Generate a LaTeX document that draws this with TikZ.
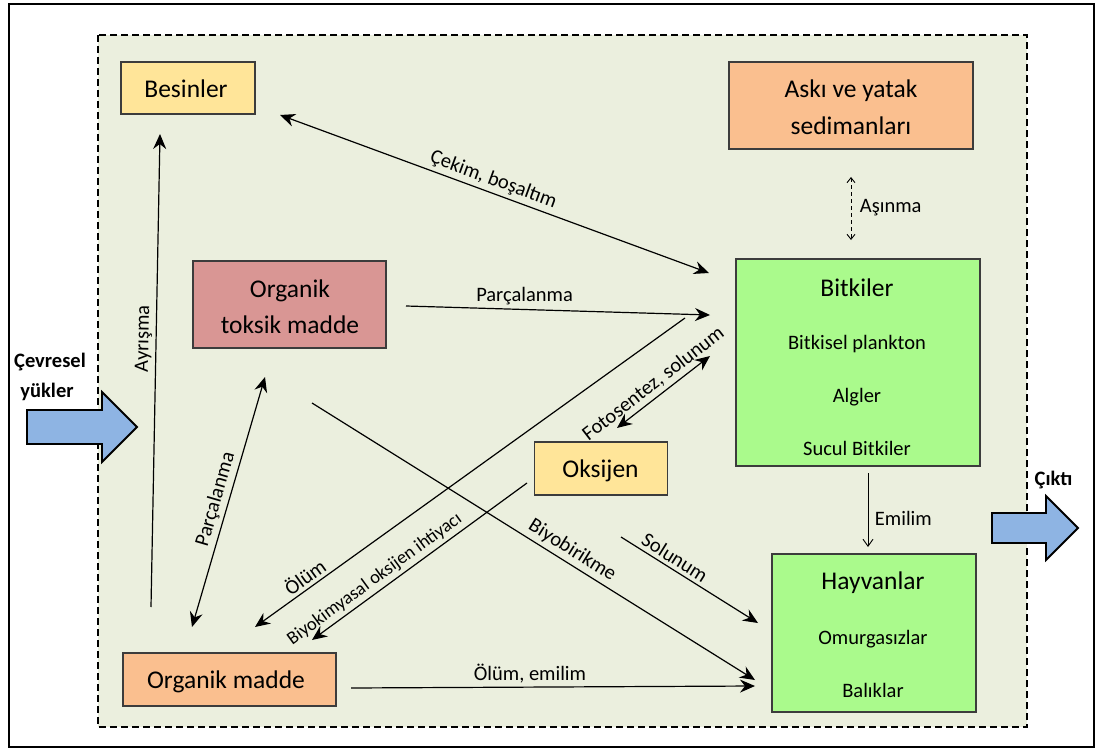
\documentclass[tikz,border=0pt]{standalone}
\usepackage{fontspec}
\setmainfont{Carlito}
\usetikzlibrary{arrows.meta}

\definecolor{panel}{RGB}{235,239,222}
\definecolor{cream}{RGB}{255,229,153}
\definecolor{peach}{RGB}{250,191,143}
\definecolor{rose}{RGB}{217,150,148}
\definecolor{leaf}{RGB}{170,250,140}
\definecolor{flow}{RGB}{142,180,227}
\definecolor{edge}{RGB}{60,60,60}

\begin{document}
\begin{tikzpicture}[x=1pt,y=-1pt,
  >={Stealth[length=15pt,width=13pt,inset=5pt]},
  box/.style={draw=edge, line width=1.4pt, inner sep=0pt},
  big/.style={font=\fontsize{25.5}{30}\selectfont, anchor=base, inner sep=0pt},
  small/.style={font=\fontsize{20.5}{24}\selectfont, anchor=base, inner sep=0pt},
  bold/.style={font=\fontsize{20.5}{24}\selectfont\bfseries, anchor=base, inner sep=0pt},
  lbl/.style={font=\fontsize{20.5}{24}\selectfont, inner sep=3.5pt},
  lblsmall/.style={font=\fontsize{18.5}{22}\selectfont, inner sep=3.5pt},
  conn/.style={line width=1.2pt},
  thinconn/.style={line width=0.9pt, -{Straight Barb[length=7pt,width=10pt]}},
  wear/.style={line width=0.9pt, dash pattern=on 4pt off 3pt,
    {Straight Barb[length=5pt,width=8pt]}-{Straight Barb[length=5pt,width=8pt]}},
  frame/.style={draw=black, line width=1.8pt, dash pattern=on 7pt off 4pt, fill=panel},
  bigarrow/.style={draw=black, line width=1.8pt, fill=flow, line join=miter}
]
\useasboundingbox (0,0) rectangle (1096,749);
\fill[white] (0,0) rectangle (1096,749);

% outer border and the system boundary
\draw[line width=2.2pt] (9.3,4.3) rectangle (1094,747.3);
\draw[frame] (98,35) rectangle (1027,727);

% compartments
\node[box, fill=cream, minimum width=134pt, minimum height=52pt] (besinler) at (188,88) {};
\node[big] (besinlerT) at (186,98) {Besinler};

\node[box, fill=peach, minimum width=244pt, minimum height=87pt] (aski) at (851,105.5) {};
\node[big] (askiT1) at (851,98) {Askı ve yatak};
\node[big] (askiT2) at (851,135) {sedimanları};

\node[box, fill=rose, minimum width=193pt, minimum height=87pt] (toksik) at (289.5,304.5) {};
\node[big] (toksikT1) at (290,297) {Organik};
\node[big] (toksikT2) at (290,333) {toksik madde};

\node[box, fill=leaf, minimum width=244pt, minimum height=207pt] (bitki) at (858,362.5) {};
\node[big] (bitkiT) at (857,296) {Bitkiler};
\node[small] (bitkiS1) at (857,349) {Bitkisel plankton};
\node[small] (bitkiS2) at (857,402) {Algler};
\node[small] (bitkiS3) at (857,455) {Sucul Bitkiler};

\node[box, fill=cream, minimum width=133pt, minimum height=53pt] (oksijen) at (601,468.5) {};
\node[big] (oksijenT) at (600.5,477) {Oksijen};

\node[box, fill=leaf, minimum width=204pt, minimum height=158pt] (hayvan) at (874,633) {};
\node[big] (hayvanT) at (873,589) {Hayvanlar};
\node[small] (hayvanS1) at (873,644) {Omurgasızlar};
\node[small] (hayvanS2) at (873,697) {Balıklar};

\node[box, fill=peach, minimum width=213pt, minimum height=53pt] (orgmadde) at (229.5,679.5) {};
\node[big] (orgmaddeT) at (226,688) {Organik madde};

% inflow and outflow
\draw[bigarrow] (27,410) -- (102,410) -- (102,392) -- (137,427) -- (102,462) -- (102,444) -- (27,444) -- cycle;
\node[bold] (yukT1) at (50,367) {Çevresel};
\node[bold] (yukT2) at (47,397) {yükler};

\draw[bigarrow] (992,513) -- (1046,513) -- (1046,496) -- (1078,528) -- (1046,560) -- (1046,543) -- (992,543) -- cycle;
\node[bold] (ciktiT) at (1053.5,485) {Çıktı};

% connector end points
\coordinate (cekA) at (280,115);  \coordinate (cekB) at (709,273);
\coordinate (asA) at (851,177);   \coordinate (asB) at (851,240);
\coordinate (parA) at (406,306);  \coordinate (parB) at (710,315);
\coordinate (fotA) at (617,428);  \coordinate (fotB) at (710,356);
\coordinate (olA) at (255,627);   \coordinate (olB) at (685,318);
\coordinate (bokA) at (312,640);  \coordinate (bokB) at (527,483);
\coordinate (biyA) at (312,403);  \coordinate (biyB) at (755,680);
\coordinate (parlA) at (192,627); \coordinate (parlB) at (265,377);
\coordinate (ayrA) at (151,607);  \coordinate (ayrB) at (160,134);
\coordinate (solA) at (621,537);  \coordinate (solB) at (758,623);
\coordinate (oeA) at (351,688);   \coordinate (oeB) at (755,686);
\coordinate (emA) at (868,473);   \coordinate (emB) at (868,547);

% flows between compartments
\draw[conn,<->] (cekA) -- node[lbl, sloped, above, pos=0.487] (lCek) {Çekim, boşaltım} (cekB);
\draw[wear] (asA) -- node[lbl, right, pos=0.49, xshift=5pt] (lAs) {Aşınma} (asB);
\draw[conn,->] (parA) -- node[lbl, above, pos=0.39] (lPar) {Parçalanma} (parB);
\draw[conn,<->] (fotA) -- node[lbl, sloped, above, pos=0.475] (lFot) {Fotosentez, solunum} (fotB);
\draw[conn,<-] (olA) -- node[lbl, sloped, above, pos=0.132] (lOl) {Ölüm} (olB);
\draw[conn,<-] (bokA) -- node[lblsmall, sloped, above, pos=0.325] (lBok) {Biyokimyasal oksijen ihtiyacı} (bokB);
\draw[conn,->] (biyA) -- node[lbl, sloped, above, pos=0.572] (lBiy) {Biyobirikme} (biyB);
\draw[conn,<->] (parlA) -- node[lbl, sloped, above, pos=0.496] (lParl) {Parçalanma} (parlB);
\draw[conn,->] (ayrA) -- node[lbl, sloped, above, pos=0.567] (lAyr) {Ayrışma} (ayrB);
\draw[conn,->] (solA) -- node[lbl, sloped, above, pos=0.35] (lSol) {Solunum} (solB);
\draw[conn,->] (oeA) -- node[lbl, above, pos=0.443] (lOe) {Ölüm, emilim} (oeB);
\draw[thinconn] (emA) -- node[lbl, right, pos=0.62, xshift=3pt] (lEm) {Emilim} (emB);
\end{tikzpicture}
\end{document}
